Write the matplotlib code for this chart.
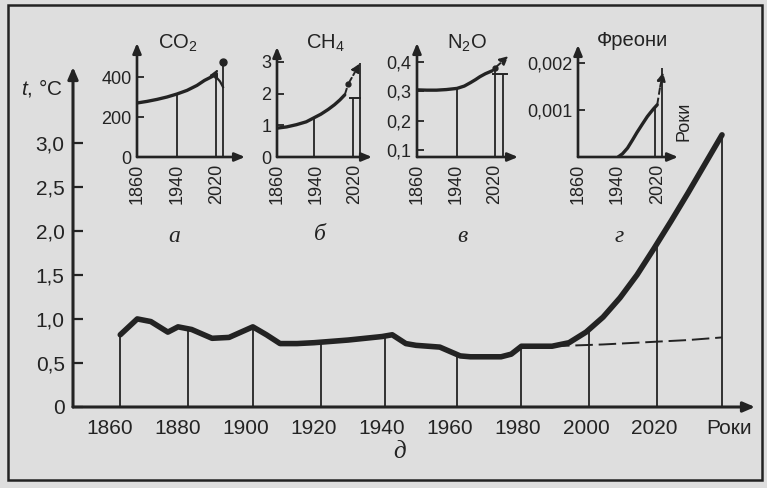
import matplotlib
matplotlib.use('Agg')
import matplotlib.pyplot as plt
import numpy as np
from matplotlib.patches import Rectangle

W, H = 767, 488
plt.rcParams['font.family'] = ['Liberation Sans', 'DejaVu Sans']
plt.rcParams['mathtext.fontset'] = 'custom'
plt.rcParams['mathtext.rm'] = 'Liberation Sans'
plt.rcParams['mathtext.it'] = 'Liberation Sans:italic'
plt.rcParams['mathtext.default'] = 'regular'
INK = '#232323'
BG = '#dedede'

# ---------------- data ----------------
# main chart (д): global temperature
main_years = [1863, 1868, 1872, 1877, 1880, 1884, 1890, 1895, 1902, 1906, 1910, 1915,
              1920, 1930, 1940, 1943, 1947, 1950, 1957, 1963, 1966, 1975, 1978, 1981,
              1990, 1995, 2000, 2005, 2010, 2015, 2020, 2025, 2030, 2035, 2040]
main_temp = [0.82, 1.00, 0.97, 0.85, 0.91, 0.88, 0.78, 0.79, 0.91, 0.82, 0.72, 0.72,
             0.73, 0.76, 0.80, 0.82, 0.72, 0.70, 0.68, 0.58, 0.57, 0.57, 0.60, 0.69,
             0.69, 0.73, 0.85, 1.02, 1.24, 1.50, 1.80, 2.11, 2.43, 2.76, 3.09]
alt_years = [1990, 2005, 2020, 2030, 2040]
alt_temp = [0.69, 0.71, 0.74, 0.76, 0.79]
main_guides = [1863, 1883, 1902, 1922, 1941, 1962, 1981, 2001, 2021, 2040]
main_xticks = [1860, 1880, 1900, 1920, 1940, 1960, 1980, 2000, 2020]
main_yticks = [0, 0.5, 1.0, 1.5, 2.0, 2.5, 3.0]
main_ylabels = ['0', '0,5', '1,0', '1,5', '2,0', '2,5', '3,0']

inset_xticks = [1860, 1940, 2020]

# CO2 (а)
co2_years = [1860, 1880, 1900, 1920, 1940, 1960, 1980, 1995, 2010, 2016]
co2_vals = [270, 278, 288, 300, 315, 333, 358, 383, 402, 410]
co2_proj_years = [2016, 2022]
co2_proj_vals = [410, 440]
co2_low_years = [2014, 2020, 2026, 2032]
co2_low_vals = [405, 395, 378, 350]
co2_guide_years = [1940, 2018, 2032]
co2_guide_tops = [315, 405, 475]
co2_yticks = [0, 200, 400]
co2_ylabels = ['0', '200', '400']

# CH4 (б)
ch4_years = [1860, 1880, 1900, 1920, 1935, 1950, 1965, 1978, 1989, 1999]
ch4_vals = [0.91, 0.95, 1.02, 1.11, 1.23, 1.35, 1.50, 1.65, 1.80, 1.96]
ch4_proj_years = [1999, 2006, 2030]
ch4_proj_vals = [1.96, 2.30, 2.95]
ch4_cap_years = [2010, 2030]
ch4_cap_vals = [1.86, 1.86]
ch4_guide_years = [1935, 2016, 2030]
ch4_guide_tops = [1.23, 1.86, 2.95]
ch4_yticks = [0, 1, 2, 3]
ch4_ylabels = ['0', '1', '2', '3']

# N2O (в)
n2o_years = [1860, 1880, 1900, 1920, 1942, 1957, 1970, 1980, 1989, 2000, 2014]
n2o_vals = [0.305, 0.304, 0.304, 0.306, 0.31, 0.318, 0.33, 0.34, 0.35, 0.36, 0.37]
n2o_proj_years = [2014, 2020, 2047]
n2o_proj_vals = [0.37, 0.38, 0.42]
n2o_cap_years = [2016, 2045]
n2o_cap_vals = [0.36, 0.36]
n2o_guide_years = [1942, 2020, 2036]
n2o_guide_tops = [0.31, 0.375, 0.36]
n2o_yticks = [0.1, 0.2, 0.3, 0.4]
n2o_ylabels = ['0,1', '0,2', '0,3', '0,4']

# Freons (г)
cfc_years = [1941, 1950, 1960, 1970, 1979, 1990, 2000, 2006, 2013, 2020]
cfc_vals = [0.0, 0.00007, 0.00019, 0.00036, 0.00052, 0.00070, 0.00086, 0.00094,
            0.00103, 0.00111]
cfc_proj_years = [2020, 2026, 2032]
cfc_proj_vals = [0.00111, 0.0015, 0.0018]
cfc_guide_years = [2016, 2030]
cfc_guide_tops = [0.00107, 0.0019]
cfc_yticks = [0.001, 0.002]
cfc_ylabels = ['0,001', '0,002']

# ---------------- figure ----------------
fig = plt.figure(figsize=(W / 100, H / 100), dpi=100, facecolor=BG)


def px_axes(l, t, r, b):
    ax = fig.add_axes([l / W, 1 - b / H, (r - l) / W, (b - t) / H])
    ax.set_facecolor('none')
    return ax


def arrow_axes(ax, lw, hl, hw):
    for s in ax.spines.values():
        s.set_visible(False)
    kw = dict(arrowstyle=f'-|>,head_length={hl},head_width={hw}', lw=lw,
              color=INK, shrinkA=0, shrinkB=0)
    ax.annotate('', xy=(1, 0), xytext=(0, 0), xycoords='axes fraction',
                arrowprops=kw, annotation_clip=False)
    ax.annotate('', xy=(0, 1), xytext=(0, 0), xycoords='axes fraction',
                arrowprops=kw, annotation_clip=False)


def small_arrow(ax, xs, ys):
    ax.annotate('', xy=(xs[-1], ys[-1]), xytext=(xs[-2], ys[-2]),
                arrowprops=dict(arrowstyle='-|>,head_length=0.5,head_width=0.25',
                                lw=1.4, color=INK, ls='--', shrinkA=0, shrinkB=0),
                annotation_clip=False)


# ---- main chart ----
ax = px_axes(73, 67, 755, 407)
ax.set_xlim(1849.1, 2049.7)
ax.set_ylim(0, 3.86)
arrow_axes(ax, 2.2, 0.7, 0.3)
tops = np.interp(main_guides, main_years, main_temp)
ax.vlines(main_guides, 0, tops, color=INK, lw=1.3)
ax.plot(alt_years, alt_temp, color=INK, lw=1.4, ls=(0, (9, 3)))
ax.plot(main_years, main_temp, color=INK, lw=4.0, solid_capstyle='round',
        solid_joinstyle='round')
ax.set_yticks(main_yticks)
ax.set_yticklabels(main_ylabels)
ax.set_xticks(main_xticks + [2042])
ax.set_xticklabels([str(v) for v in main_xticks] + ['Роки'])
ax.tick_params(axis='y', direction='in', length=7, width=1.6, colors=INK,
               labelsize=15, pad=6)
ax.tick_params(axis='x', length=0, colors=INK, labelsize=15, pad=9)

fig.text(42 / W, 1 - 88 / H, r'$\it{t}$, °C', fontsize=15, color=INK,
         ha='center', va='center')
fig.text(400 / W, 1 - 452 / H, 'д', fontsize=18, color=INK, style='italic',
         family='Liberation Serif', ha='center', va='center')


def inset(box, xlim, ylim, yticks, ylabels, title, title_xy, letter, letter_xy):
    a = px_axes(*box)
    a.set_xlim(*xlim)
    a.set_ylim(*ylim)
    arrow_axes(a, 1.9, 0.6, 0.25)
    a.set_xticks(inset_xticks)
    a.set_xticklabels([str(v) for v in inset_xticks], rotation=90)
    a.set_yticks(yticks)
    a.set_yticklabels(ylabels)
    a.tick_params(axis='x', length=0, colors=INK, labelsize=13, pad=5)
    a.tick_params(axis='y', direction='in', length=5, width=1.3, colors=INK,
                  labelsize=13, pad=4)
    fig.text(title_xy[0] / W, 1 - title_xy[1] / H, title, fontsize=14.5, color=INK,
             ha='center', va='center')
    fig.text(letter_xy[0] / W, 1 - letter_xy[1] / H, letter, fontsize=17,
             color=INK, style='italic', family='Liberation Serif',
             ha='center', va='center')
    return a


# CO2
a1 = inset((137, 43, 245, 157), (1860, 2076), (0, 570), co2_yticks, co2_ylabels,
           'CO$_2$', (178, 43), 'а', (174, 236))
a1.vlines(co2_guide_years, 0, co2_guide_tops, color=INK, lw=1.3)
a1.plot(co2_years, co2_vals, color=INK, lw=2.4, solid_capstyle='round')
a1.plot(co2_low_years, co2_low_vals, color=INK, lw=1.6)
small_arrow(a1, co2_proj_years, co2_proj_vals)
a1.plot([co2_guide_years[-1]], [co2_guide_tops[-1]], 'o', color=INK, ms=5,
        clip_on=False)

# CH4
a2 = inset((277, 47, 372, 157), (1860, 2054.9), (0, 3.47), ch4_yticks, ch4_ylabels,
           'CH$_4$', (325, 43), 'б', (320, 234))
a2.vlines(ch4_guide_years, 0, ch4_guide_tops, color=INK, lw=1.3)
a2.plot(ch4_cap_years, ch4_cap_vals, color=INK, lw=1.4)
a2.plot(ch4_years, ch4_vals, color=INK, lw=2.4, solid_capstyle='round')
a2.plot(ch4_proj_years[:-1], ch4_proj_vals[:-1], color=INK, lw=1.4, ls='--')
a2.plot([ch4_proj_years[1]], [ch4_proj_vals[1]], 'o', color=INK, ms=3.5)
small_arrow(a2, ch4_proj_years[1:], ch4_proj_vals[1:])

# N2O
a3 = inset((417, 43, 518, 157), (1860, 2067), (0.0758, 0.465), n2o_yticks,
           n2o_ylabels, 'N$_2$O', (467, 43), 'в', (462, 236))
a3.vlines(n2o_guide_years, 0.0758, n2o_guide_tops, color=INK, lw=1.3)
a3.plot(n2o_cap_years, n2o_cap_vals, color=INK, lw=1.4)
a3.plot(n2o_years, n2o_vals, color=INK, lw=2.4, solid_capstyle='round')
a3.plot(n2o_proj_years[:-1], n2o_proj_vals[:-1], color=INK, lw=1.4, ls='--')
a3.plot([n2o_proj_years[1]], [n2o_proj_vals[1]], 'o', color=INK, ms=3.5)
small_arrow(a3, n2o_proj_years[1:], n2o_proj_vals[1:])

# Freons
a4 = inset((578, 45, 678, 157), (1860, 2062), (0, 0.002383), cfc_yticks,
           cfc_ylabels, 'Фреони', (633, 41), 'г', (619, 236))
a4.vlines(cfc_guide_years, 0, cfc_guide_tops, color=INK, lw=1.3)
a4.plot(cfc_years, cfc_vals, color=INK, lw=2.4, solid_capstyle='round')
a4.plot(cfc_proj_years[:-1], cfc_proj_vals[:-1], color=INK, lw=1.4, ls='--')
small_arrow(a4, cfc_proj_years[1:], cfc_proj_vals[1:])
fig.text(684 / W, 1 - 121 / H, 'Роки', fontsize=13, color=INK, rotation=90,
         ha='center', va='center')

# frame
fig.patches.append(Rectangle((8 / W, 1 - 480 / H), (762 - 8) / W, (480 - 5) / H,
                             transform=fig.transFigure, fill=False, lw=1.8,
                             ec=INK))

fig.savefig('out.png', dpi=100, facecolor=BG)
